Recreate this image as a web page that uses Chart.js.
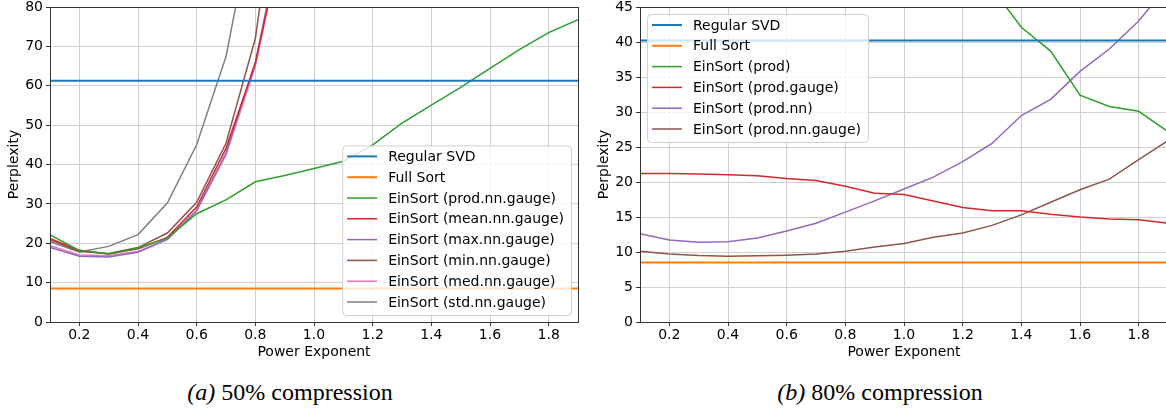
<!DOCTYPE html>
<html>
<head>
<meta charset="utf-8">
<script src="https://cdn.jsdelivr.net/npm/chart.js@4.4.1/dist/chart.umd.min.js"></script>
<style>
  html, body { margin: 0; padding: 0; background: #fff; overflow: hidden; }
  body { width: 1166px; height: 413px; position: relative; }
  .panel { position: absolute; top: 0; width: 583px; height: 365px; }
  .caption {
    position: absolute; top: 378px; width: 300px; height: 28px; line-height: 28px;
    text-align: center; font-family: 'Liberation Serif', 'Times New Roman', serif;
    font-size: 24px; color: #000;
  }
</style>
</head>
<body>
<div class="panel" style="left:0"><canvas id="chart-50"></canvas></div>
<div class="panel" style="left:590px"><canvas id="chart-80"></canvas></div>
<div class="caption" style="left:140px"><i>(a)</i> 50% compression</div>
<div class="caption" style="left:730px"><i>(b)</i> 80% compression</div>
<script>
// x positions shared by both panels
const powers = [0.1, 0.2, 0.3, 0.4, 0.5, 0.6, 0.7, 0.8, 0.9, 1.0, 1.1, 1.2, 1.3, 1.4, 1.5, 1.6, 1.7, 1.8, 1.9];
const xTicks = [0.2, 0.4, 0.6, 0.8, 1.0, 1.2, 1.4, 1.6, 1.8];

// (a) 50% compression
const svd50 = [61.3, 61.3, 61.3, 61.3, 61.3, 61.3, 61.3, 61.3, 61.3, 61.3, 61.3, 61.3, 61.3, 61.3, 61.3, 61.3, 61.3, 61.3, 61.3];
const fullSort50 = [8.5, 8.5, 8.5, 8.5, 8.5, 8.5, 8.5, 8.5, 8.5, 8.5, 8.5, 8.5, 8.5, 8.5, 8.5, 8.5, 8.5, 8.5, 8.5];
const prodNnGauge50 = [22.1, 18.2, 17.3, 18.8, 21.3, 27.5, 31.0, 35.6, 37.2, 39.0, 40.8, 45.0, 50.5, 55.1, 59.6, 64.4, 69.2, 73.5, 76.8];
const meanNnGauge50 = [21.2, 18.2, 17.3, 18.6, 21.5, 29.2, 44.1, 65.7, 100, null, null, null, null, null, null, null, null, null, null];
const maxNnGauge50 = [18.9, 16.7, 16.5, 17.7, 21.0, 28.3, 42.9, 66.0, 102, null, null, null, null, null, null, null, null, null, null];
const minNnGauge50 = [20.9, 17.9, 17.4, 18.9, 22.6, 30.4, 45.4, 72.0, 125, null, null, null, null, null, null, null, null, null, null];
const medNnGauge50 = [19.4, 17.0, 16.8, 17.9, 21.0, 28.3, 42.4, 65.0, 100, null, null, null, null, null, null, null, null, null, null];
const stdNnGauge50 = [20.4, 17.8, 19.2, 22.2, 30.2, 45.0, 67.4, 105.6, null, null, null, null, null, null, null, null, null, null, null];

// (b) 80% compression
const svd80 = [40.2, 40.2, 40.2, 40.2, 40.2, 40.2, 40.2, 40.2, 40.2, 40.2, 40.2, 40.2, 40.2, 40.2, 40.2, 40.2, 40.2, 40.2, 40.2];
const fullSort80 = [8.5, 8.5, 8.5, 8.5, 8.5, 8.5, 8.5, 8.5, 8.5, 8.5, 8.5, 8.5, 8.5, 8.5, 8.5, 8.5, 8.5, 8.5, 8.5];
const prod80 = [null, null, null, null, null, null, null, null, null, null, null, null, 47.7, 42.1, 38.7, 32.4, 30.8, 30.1, 27.2];
const prodGauge80 = [21.2, 21.2, 21.15, 21.05, 20.9, 20.5, 20.2, 19.4, 18.4, 18.2, 17.3, 16.35, 15.9, 15.9, 15.4, 15.0, 14.7, 14.6, 14.1];
const prodNn80 = [12.6, 11.7, 11.4, 11.45, 12.0, 13.0, 14.1, 15.7, 17.3, 19.0, 20.7, 22.9, 25.5, 29.5, 31.8, 35.8, 39.0, 43.0, 48.1];
const prodNnGauge80 = [10.1, 9.7, 9.5, 9.4, 9.45, 9.55, 9.7, 10.1, 10.7, 11.2, 12.1, 12.7, 13.8, 15.3, 17.1, 18.9, 20.4, 23.2, 25.9];

const COLORS = {
  blue: '#1f77b4', orange: '#ff7f0e', green: '#2ca02c', red: '#d62728',
  purple: '#9467bd', brown: '#8c564b', pink: '#e377c2', gray: '#7f7f7f',
};
const FONT = "'DejaVu Sans', 'Liberation Sans', sans-serif";

Chart.defaults.font.family = FONT;
Chart.defaults.font.size = 14;
Chart.defaults.color = '#000';

function series(label, values, color, width = 1.5) {
  return {
    label,
    data: powers.map((x, i) => ({ x, y: values[i] })),
    borderColor: color,
    backgroundColor: color,
    borderWidth: width,
    pointRadius: 0,
    tension: 0,
  };
}

// top/right spines, matplotlib style
const framePlugin = {
  id: 'frame',
  afterDatasetsDraw(chart) {
    const { ctx, chartArea: a } = chart;
    ctx.save();
    ctx.strokeStyle = '#333';
    ctx.lineWidth = 1;
    ctx.strokeRect(Math.round(a.left) + 0.5, Math.round(a.top) + 0.5, Math.round(a.right - a.left), Math.round(a.bottom - a.top));
    ctx.restore();
  },
};

// boxed legend inside the plot area
const boxLegendPlugin = {
  id: 'boxLegend',
  afterDraw(chart, args, opts) {
    const { ctx, chartArea: a } = chart;
    const sets = chart.data.datasets;
    const rowH = 20.8;
    ctx.save();
    ctx.font = `14px ${FONT}`;
    const textW = Math.max(...sets.map((d) => ctx.measureText(d.label).width));
    const w = 46 + textW + 7;
    const h = 11 + (sets.length - 1) * rowH + 13;
    const x = opts.corner === 'br' ? a.right - opts.dx - w : a.left + opts.dx;
    const y = opts.corner === 'br' ? a.bottom - opts.dy - h : a.top + opts.dy;

    ctx.beginPath();
    ctx.roundRect(x + 0.5, y + 0.5, w, h, 4);
    ctx.fillStyle = 'rgba(255,255,255,0.8)';
    ctx.fill();
    ctx.strokeStyle = '#d0d0d0';
    ctx.lineWidth = 1;
    ctx.stroke();

    ctx.textBaseline = 'middle';
    sets.forEach((d, i) => {
      const cy = y + 11 + i * rowH;
      ctx.beginPath();
      ctx.moveTo(x + 5, cy);
      ctx.lineTo(x + 35, cy);
      ctx.strokeStyle = d.borderColor;
      ctx.lineWidth = d.borderWidth;
      ctx.stroke();
      ctx.fillStyle = '#000';
      ctx.fillText(d.label, x + 46, cy + 1);
    });
    ctx.restore();
  },
};

function makeChart(id, datasets, yMax, yStep, legend) {
  return new Chart(document.getElementById(id), {
    type: 'line',
    data: { datasets },
    plugins: [framePlugin, boxLegendPlugin],
    options: {
      responsive: true,
      maintainAspectRatio: false,
      animation: false,
      layout: { padding: { top: 7, right: 5, left: 0, bottom: 0 } },
      plugins: {
        legend: { display: false },
        tooltip: { enabled: false },
        boxLegend: legend,
      },
      scales: {
        x: {
          type: 'linear',
          min: 0.1,
          max: 1.9,
          afterBuildTicks: (scale) => { scale.ticks = xTicks.map((v) => ({ value: v })); },
          afterFit: (scale) => { scale.height = 43; },
          ticks: { padding: 1, callback: (v) => v.toFixed(1) },
          grid: { color: '#d0d0d0', tickColor: '#333', tickLength: 4 },
          border: { color: '#333' },
          title: { display: true, text: 'Power Exponent', padding: { top: 0, bottom: 4 } },
        },
        y: {
          min: 0,
          max: yMax,
          afterFit: (scale) => {
            scale.width = 50;
            scale.paddingTop = 0;
            scale.paddingBottom = 0;
          },
          ticks: { stepSize: yStep, padding: 3 },
          grid: { color: '#d0d0d0', tickColor: '#333', tickLength: 4 },
          border: { color: '#333' },
          title: { display: true, text: 'Perplexity', padding: { top: 6, bottom: 0 } },
        },
      },
    },
  });
}

makeChart('chart-50', [
  series('Regular SVD', svd50, COLORS.blue, 2),
  series('Full Sort', fullSort50, COLORS.orange, 2),
  series('EinSort (prod.nn.gauge)', prodNnGauge50, COLORS.green),
  series('EinSort (mean.nn.gauge)', meanNnGauge50, COLORS.red),
  series('EinSort (max.nn.gauge)', maxNnGauge50, COLORS.purple),
  series('EinSort (min.nn.gauge)', minNnGauge50, COLORS.brown),
  series('EinSort (med.nn.gauge)', medNnGauge50, COLORS.pink),
  series('EinSort (std.nn.gauge)', stdNnGauge50, COLORS.gray),
], 80, 10, { corner: 'br', dx: 7, dy: 7 });

makeChart('chart-80', [
  series('Regular SVD', svd80, COLORS.blue, 2),
  series('Full Sort', fullSort80, COLORS.orange, 2),
  series('EinSort (prod)', prod80, COLORS.green),
  series('EinSort (prod.gauge)', prodGauge80, COLORS.red),
  series('EinSort (prod.nn)', prodNn80, COLORS.purple),
  series('EinSort (prod.nn.gauge)', prodNnGauge80, COLORS.brown),
], 45, 5, { corner: 'tl', dx: 7, dy: 7 });
</script>
</body>
</html>
